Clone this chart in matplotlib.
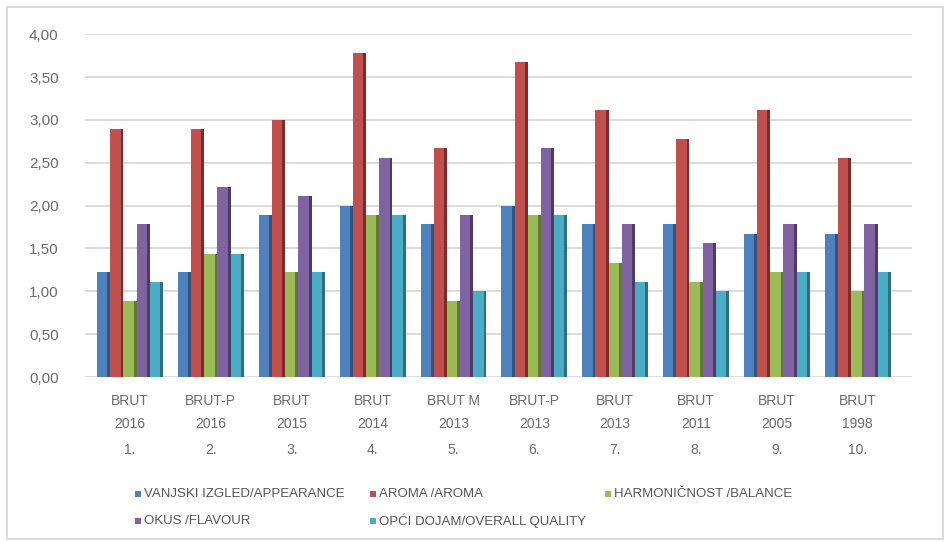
import matplotlib
matplotlib.use('Agg')
import matplotlib.pyplot as plt
import numpy as np
from matplotlib.patches import Rectangle
from matplotlib.ticker import FuncFormatter

# Uzorci i prosječne ocjene po svojstvu
samples = ['BRUT\n2016', 'BRUT-P\n2016', 'BRUT\n2015', 'BRUT\n2014', 'BRUT M\n2013',
           'BRUT-P\n2013', 'BRUT\n2013', 'BRUT\n2011', 'BRUT\n2005', 'BRUT\n1998']
sample_no = ['1.', '2.', '3.', '4.', '5.', '6.', '7.', '8.', '9.', '10.']

appearance = [1.22, 1.22, 1.89, 2.00, 1.78, 2.00, 1.78, 1.78, 1.67, 1.67]
aroma      = [2.89, 2.89, 3.00, 3.78, 2.67, 3.67, 3.11, 2.78, 3.11, 2.56]
balance    = [0.89, 1.44, 1.22, 1.89, 0.89, 1.89, 1.33, 1.11, 1.22, 1.00]
flavour    = [1.78, 2.22, 2.11, 2.56, 1.89, 2.67, 1.78, 1.56, 1.78, 1.78]
overall    = [1.11, 1.44, 1.22, 1.89, 1.00, 1.89, 1.11, 1.00, 1.22, 1.22]

series = [
    ('VANJSKI IZGLED/APPEARANCE', appearance, '#4F81BD', '#2f5580'),
    ('AROMA /AROMA', aroma, '#C0504D', '#7f2a28'),
    ('HARMONIČNOST /BALANCE', balance, '#9BBB59', '#62792f'),
    ('OKUS /FLAVOUR', flavour, '#8064A2', '#4f3a69'),
    ('OPĆI DOJAM/OVERALL QUALITY', overall, '#4BACC6', '#2a7085'),
]

plt.rcParams['font.family'] = ['Liberation Sans', 'DejaVu Sans']
txt_color = '#6b6b6b'

W, H = 946, 542
fig = plt.figure(figsize=(W / 100, H / 100), dpi=100)
fig.patches.append(Rectangle((0.007, 0.006), 0.99, 0.981, transform=fig.transFigure,
                             fill=False, edgecolor='#d4d4d4', linewidth=1.2))
ax = fig.add_axes([0.0899, 0.3044, 0.8741, 0.6326])

x = np.arange(len(samples))
w = 0.163
side = 0.035
for i, (name, vals, col, dark) in enumerate(series):
    pos = x + (i - 2) * w
    ax.bar(pos, vals, width=w, color=col, zorder=3 + i)
    # tamnija bočna strana stupca (3D izgled)
    ax.bar(pos + w / 2 - side / 2, vals, width=side, color=dark, zorder=3 + i)

ax.set_xlim(-0.556, 9.67)
ax.set_ylim(0, 4)
ax.set_yticks(np.arange(0, 4.01, 0.5))
ax.yaxis.set_major_formatter(FuncFormatter(lambda v, p: f'{v:.2f}'.replace('.', ',')))
ax.tick_params(axis='y', length=0, pad=19, labelsize=11, labelcolor=txt_color)
ax.set_xticks([])
ax.grid(axis='y', color='#d9d9d9', linewidth=1.3, zorder=0)
for s in ax.spines.values():
    s.set_visible(False)

tr = ax.get_xaxis_transform()
for xi, lab, num in zip(x, samples, sample_no):
    top, bottom = lab.split('\n')
    ax.text(xi, -0.069, top, transform=tr, ha='center', va='center', fontsize=10, color=txt_color)
    ax.text(xi, -0.137, bottom, transform=tr, ha='center', va='center', fontsize=10, color=txt_color)
    ax.text(xi, -0.212, num, transform=tr, ha='center', va='center', fontsize=10, color=txt_color)

# legenda: dva reda, tri stupca
legend_pos = [(138, 494), (373, 494), (608, 494), (138, 521), (373, 521)]
for (name, vals, col, dark), (px, py) in zip(series, legend_pos):
    fig.patches.append(Rectangle(((px - 3) / W, 1 - (py + 3) / H), 6 / W, 6 / H,
                                 transform=fig.transFigure, facecolor=col, edgecolor='none'))
    fig.text((px + 6) / W, 1 - py / H, name, ha='left', va='center',
             fontsize=9.5, color='#555555')

fig.savefig('out.png', dpi=100)
